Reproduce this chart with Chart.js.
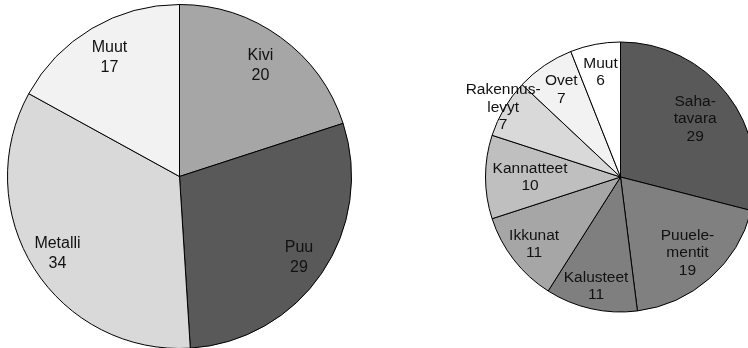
<!DOCTYPE html>
<html>
<head>
<meta charset="utf-8">
<script src="https://cdn.jsdelivr.net/npm/chart.js@4/dist/chart.umd.min.js"></script>
<style>
  html, body { margin: 0; padding: 0; background: #fff; width: 748px; height: 348px; overflow: hidden; }
  canvas { position: absolute; }
  #left { left: 0; top: 0; }
  #right { left: 440px; top: 27px; }
</style>
</head>
<body>
<canvas id="left" width="359" height="353"></canvas>
<canvas id="right" width="361" height="300"></canvas>
<script>
// Materials (left pie)
const materialLabels = [["Kivi"], ["Puu"], ["Metalli"], ["Muut"]];
const materialValues = [20, 29, 34, 17];
const materialColors = ["#a6a6a6", "#595959", "#d9d9d9", "#f2f2f2"];

// Wood products (right pie)
const woodLabels = [["Saha-", "tavara"], ["Puuele-", "mentit"], ["Kalusteet"], ["Ikkunat"],
                    ["Kannatteet"], ["Rakennus-", "levyt"], ["Ovet"], ["Muut"]];
const woodValues = [29, 19, 11, 11, 10, 7, 7, 6];
const woodColors = ["#595959", "#808080", "#7f7f7f", "#a6a6a6", "#bfbfbf", "#d9d9d9", "#f2f2f2", "#ffffff"];

// Draws each slice's name and value inside the slice, along its middle angle
const sliceLabels = {
  id: 'sliceLabels',
  afterDatasetsDraw(chart, args, opts) {
    const ctx = chart.ctx;
    const ds = chart.data.datasets[0];
    const meta = chart.getDatasetMeta(0);
    ctx.save();
    ctx.font = opts.fontSize + 'px "Liberation Sans", Arial, sans-serif';
    ctx.fillStyle = '#111';
    ctx.textAlign = 'center';
    ctx.textBaseline = 'middle';
    meta.data.forEach((arc, i) => {
      const p = arc.getProps(['x', 'y', 'startAngle', 'endAngle', 'outerRadius'], true);
      const mid = (p.startAngle + p.endAngle) / 2;
      const r = p.outerRadius * opts.radial[i];
      const cx = p.x + Math.cos(mid) * r;
      const cy = p.y + Math.sin(mid) * r;
      const lines = chart.data.labels[i].concat([String(ds.data[i])]);
      const top = cy - (lines.length - 1) * opts.lineHeight / 2;
      lines.forEach((t, k) => ctx.fillText(t, cx, top + k * opts.lineHeight));
    });
    ctx.restore();
  }
};

function pie(id, labels, values, colors, radius, labelOpts) {
  return new Chart(document.getElementById(id), {
    type: 'pie',
    data: {
      labels: labels,
      datasets: [{
        data: values,
        backgroundColor: colors,
        borderColor: '#000',
        borderWidth: 1
      }]
    },
    options: {
      responsive: false,
      animation: false,
      radius: radius,
      plugins: {
        legend: { display: false },
        tooltip: { enabled: false },
        sliceLabels: labelOpts
      }
    },
    plugins: [sliceLabels]
  });
}

pie('left', materialLabels, materialValues, materialColors, 172,
    { fontSize: 16, lineHeight: 20, radial: [0.80, 0.84, 0.84, 0.80] });
pie('right', woodLabels, woodValues, woodColors, 135,
    { fontSize: 15.5, lineHeight: 17.5, radial: [0.70, 0.75, 0.83, 0.81, 0.67, 1.01, 0.78, 0.79] });
</script>
</body>
</html>
